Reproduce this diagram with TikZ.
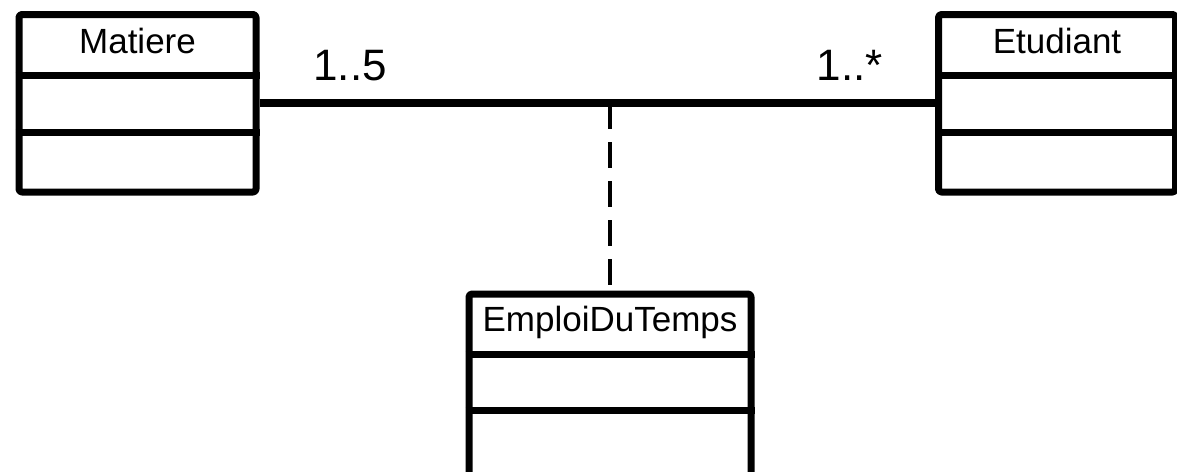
\documentclass[tikz,border=0pt]{standalone}
\usepackage{fontspec}
\setmainfont{Liberation Sans}
\begin{document}
\begin{tikzpicture}[x=0.5pt,y=-0.5pt, line join=round,
		classe/.style={draw, line width=3.5pt, rounded corners=1.5pt, minimum width=118.5pt, minimum height=88.75pt, inner sep=0pt},
		nomclasse/.style={anchor=base, font=\fontsize{17.5}{20}\selectfont},
		mult/.style={anchor=base, font=\fontsize{22}{26}\selectfont},
		assoc/.style={line width=4pt},
		lien/.style={line width=2pt, dash pattern=on 13pt off 6.5pt}]
	\clip (0,0) rectangle (1177,471);
	% les trois classes
	\node[classe] (mat) at (137.5,103.25) {};
	\node[classe] (etu) at (1057,103.25) {};
	\node[classe, minimum width=141pt, minimum height=91pt] (edt) at (610,385) {};
	\foreach \c in {mat,etu}{
		\draw[line width=3.5pt] ([yshift=-32.25pt]\c.north west)--([yshift=-32.25pt]\c.north east);
		\draw[line width=3.5pt] ([yshift=-60.75pt]\c.north west)--([yshift=-60.75pt]\c.north east);
	}
	\draw[line width=3.5pt] ([yshift=-32pt]edt.north west)--([yshift=-32pt]edt.north east);
	\draw[line width=3.5pt] ([yshift=-60pt]edt.north west)--([yshift=-60pt]edt.north east);
	\node[nomclasse] (nmat) at ([yshift=-21.25pt]mat.north) {Matiere};
	\node[nomclasse] (netu) at ([yshift=-21.5pt]etu.north) {Etudiant};
	\node[nomclasse] (nedt) at ([yshift=-20.5pt]edt.north) {EmploiDuTemps};
	% association
	\draw[assoc] (mat)--(etu);
	\node[mult] (m1) at (350,80) {1..5};
	\node[mult] (m2) at (850,80) {1..*};
	\coordinate (pivot) at (edt.north |- mat.east);
	\draw[lien] (pivot)--(edt.north);
\end{tikzpicture}
\end{document}
